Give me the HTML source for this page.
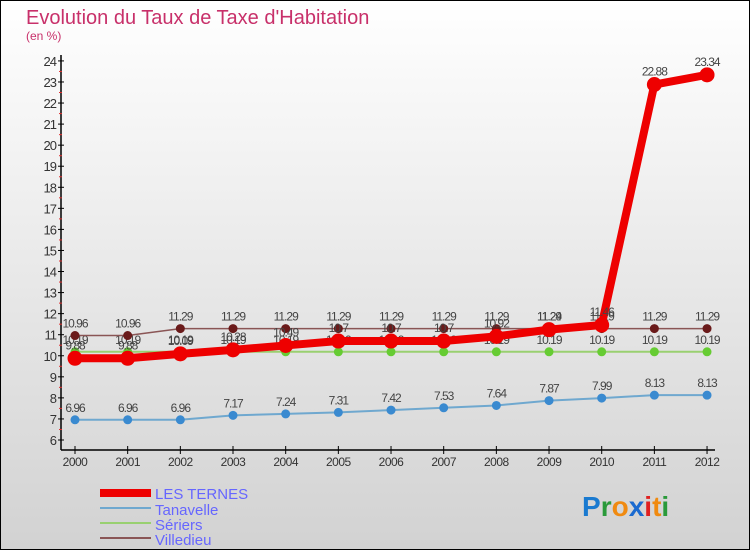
<!DOCTYPE html>
<html><head><meta charset="utf-8">
<style>
html,body{margin:0;padding:0;}
body{width:750px;height:550px;overflow:hidden;font-family:"Liberation Sans",sans-serif;}
svg{display:block;}
</style></head>
<body>
<svg id="chart" width="750" height="550" xmlns="http://www.w3.org/2000/svg">
<defs>
<linearGradient id="bg" x1="0" y1="0" x2="0" y2="1">
<stop offset="0" stop-color="#ffffff"/><stop offset="1" stop-color="#d2d2d2"/>
</linearGradient>
</defs>
<rect x="0.5" y="0.5" width="749" height="549" fill="url(#bg)" stroke="#000"/>
<text x="26" y="24" font-size="20" fill="#c8306a">Evolution du Taux de Taxe d'Habitation</text>
<text x="26" y="40" font-size="12" fill="#c8306a">(en %)</text>
<g id="axes"></g>
<g id="series"></g>
<g>
<rect x="100" y="489" width="51" height="8" fill="#ee0000"/>
<text x="155" y="499" font-size="15" fill="#6666ff">LES TERNES</text>
<rect x="100" y="507" width="51" height="2" fill="#6fa8cf"/>
<text x="155" y="515" font-size="15" fill="#6666ff">Tanavelle</text>
<rect x="100" y="522" width="51" height="2" fill="#99d070"/>
<text x="155" y="530" font-size="15" fill="#6666ff">Sériers</text>
<rect x="100" y="537" width="51" height="2" fill="#8a5555"/>
<text x="155" y="545" font-size="15" fill="#6666ff">Villedieu</text>
</g>
<text x="582" y="516" font-size="28" font-weight="bold"><tspan fill="#1a7ad0">P</tspan><tspan fill="#2a9a3a">r</tspan><tspan fill="#f08a10">o</tspan><tspan fill="#1a6ad0">x</tspan><tspan fill="#e02020">i</tspan><tspan fill="#f08a10">t</tspan><tspan fill="#2a9a3a">i</tspan></text>
<script>
const years = [2000,2001,2002,2003,2004,2005,2006,2007,2008,2009,2010,2011,2012];
const lesTernes = [9.88,9.88,10.09,10.28,10.49,10.7,10.7,10.7,10.92,11.24,11.46,22.88,23.34];
const tanavelle = [6.96,6.96,6.96,7.17,7.24,7.31,7.42,7.53,7.64,7.87,7.99,8.13,8.13];
const seriers = [10.19,10.19,10.19,10.19,10.19,10.19,10.19,10.19,10.19,10.19,10.19,10.19,10.19];
const villedieu = [10.96,10.96,11.29,11.29,11.29,11.29,11.29,11.29,11.29,11.29,11.29,11.29,11.29];
const yTicks = [6,7,8,9,10,11,12,13,14,15,16,17,18,19,20,21,22,23,24];

const NS = "http://www.w3.org/2000/svg";
const X0 = 75, XSTEP = 52.67, Y6 = 440, YSTEP = 21.06;
function xs(i){ return X0 + i*XSTEP; }
function ys(v){ return Y6 - (v-6)*YSTEP; }
function mk(tag, attrs, parent){ const e=document.createElementNS(NS,tag); for(const k in attrs) e.setAttribute(k,attrs[k]); parent.appendChild(e); return e; }

const axes = document.getElementById('axes');
let el = mk('line',{x1:61,y1:55,x2:61,y2:450,stroke:'#000','stroke-width':1.5},axes);


el = mk('line',{x1:61,y1:450,x2:715,y2:450,stroke:'#000','stroke-width':1.5},axes);


yTicks.forEach(t=>{
  const y=ys(t);
  mk('line',{x1:58,y1:y,x2:64,y2:y,stroke:'#000'},axes);
  if(t<24) mk('line',{x1:59,y1:y-YSTEP/2,x2:62,y2:y-YSTEP/2,stroke:'#e03030'},axes);
  const tx = mk('text',{x:56,y:y+5,'font-size':13,'text-anchor':'end',fill:'#333','letter-spacing':'-1'},axes);
  tx.textContent=t;
  
  
});
years.forEach((yr,i)=>{
  const x=xs(i);
  mk('line',{x1:x,y1:446,x2:x,y2:454,stroke:'#000'},axes);
  const tx = mk('text',{x:x,y:466,'font-size':12,'text-anchor':'middle',fill:'#333','letter-spacing':'-0.5'},axes);
  tx.textContent=yr;
  
  
});

const seriesG = document.getElementById('series');
function drawSeries(name, vals, color, w, r, dot, labelDy){
  const g = mk('g',{},seriesG);
  
  
  const pl = mk('polyline',{points:vals.map((v,i)=>xs(i)+','+ys(v)).join(' '),fill:'none',stroke:color,'stroke-width':w,'stroke-linejoin':'round'},g);
  
  
  vals.forEach((v,i)=>{
    const c = mk('circle',{cx:xs(i),cy:ys(v),r:r,fill:dot,stroke:dot},g);
    
    
    const t = mk('text',{x:xs(i),y:ys(v)+labelDy,'font-size':12,'text-anchor':'middle',fill:'#444','letter-spacing':'-1'},g);
    t.textContent = v;
    
    
  });
}
drawSeries('tanavelle', tanavelle, '#6fa8cf', 2, 4, '#3a8ad0', -8);
drawSeries('seriers', seriers, '#99d070', 2, 4, '#66cc33', -8);
drawSeries('villedieu', villedieu, '#8a5555', 1.5, 4, '#6a1a1a', -8);
drawSeries('les-ternes', lesTernes, '#ee0000', 8, 7, '#ee0000', -9);
</script>
</svg>
</body></html>
